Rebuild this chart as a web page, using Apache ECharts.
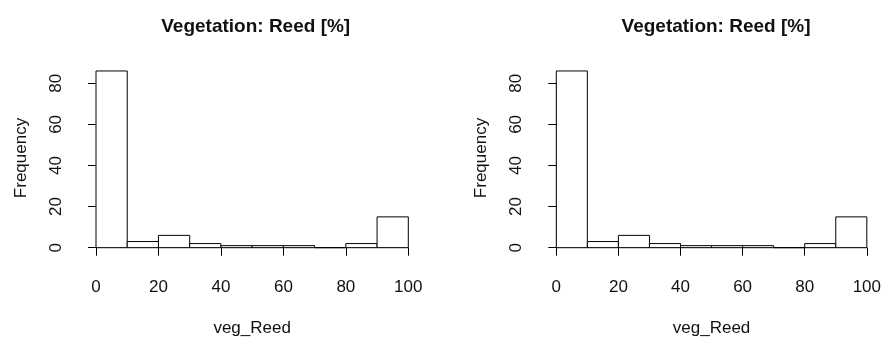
<!DOCTYPE html>
<html>
<head>
<meta charset="utf-8">
<script src="https://cdn.jsdelivr.net/npm/echarts@6/dist/echarts.min.js"></script>
<style>
  html, body { margin: 0; padding: 0; background: #fff; }
  #chart { width: 884px; height: 338px; }
</style>
</head>
<body>
<div id="chart"></div>
<script>
// Histogram of reed cover: bin edges and counts per bin
const binStarts = [0, 10, 20, 30, 40, 50, 60, 70, 80, 90];
const binWidth = 10;
const counts = [86, 3, 6, 2, 1, 1, 1, 0, 2, 15];
const xTicks = [0, 20, 40, 60, 80, 100];
const yTicks = [0, 20, 40, 60, 80];
const titleText = 'Vegetation: Reed [%]';
const xLabel = 'veg_Reed';
const yLabel = 'Frequency';

const binData = binStarts.map((s, i) => [s, s + binWidth, counts[i]]);

const FONT = 'Liberation Sans, Arial, sans-serif';
const INK = '#111';

// Each bin is a white rectangle with a black outline, from 0 up to its count
function renderBin(params, api) {
  const p0 = api.coord([api.value(0), 0]);
  const p1 = api.coord([api.value(1), api.value(2)]);
  return {
    type: 'rect',
    shape: { x: p0[0], y: p1[1], width: p1[0] - p0[0], height: p0[1] - p1[1] },
    style: { fill: '#fff', stroke: '#000', lineWidth: 1 }
  };
}

// Two identical panels side by side
const panels = [
  { left: 96, right: 475.7, titleX: 250.7 },
  { left: 556.3, right: 15.7, titleX: 711 }
];

const option = {
  animation: false,
  backgroundColor: '#fff',
  title: panels.map(p => ({
    text: titleText,
    left: p.titleX,
    top: 12,
    textAlign: 'center',
    textStyle: { fontFamily: FONT, fontSize: 19, fontWeight: 'bold', color: INK }
  })),
  grid: panels.map(p => ({ left: p.left, right: p.right, top: 83.3, bottom: 90.3 })),
  xAxis: panels.map((p, i) => ({
    type: 'value', gridIndex: i, min: 0, max: 100, interval: 20,
    offset: 8,
    name: xLabel, nameLocation: 'middle', nameGap: 64,
    nameTextStyle: { fontFamily: FONT, fontSize: 17, color: INK },
    axisLine: { show: true, lineStyle: { color: '#000', width: 1 } },
    axisTick: { show: true, length: 8, lineStyle: { color: '#000' } },
    axisLabel: {
      fontFamily: FONT, fontSize: 17, color: INK, margin: 23,
      formatter: v => (xTicks.includes(v) ? String(v) : '')
    },
    splitLine: { show: false }
  })),
  yAxis: panels.map((p, i) => ({
    type: 'value', gridIndex: i, min: 0, max: 80, interval: 20,
    offset: 13,
    name: yLabel, nameLocation: 'middle', nameGap: 53, nameRotate: 90,
    nameTextStyle: { fontFamily: FONT, fontSize: 17, color: INK, padding: [0, 0, 0, 15] },
    axisLine: { show: true, lineStyle: { color: '#000', width: 1 } },
    axisTick: { show: true, length: 8, lineStyle: { color: '#000' } },
    axisLabel: {
      fontFamily: FONT, fontSize: 17, color: INK, margin: 18, rotate: 90,
      formatter: v => (yTicks.includes(v) ? String(v) : '')
    },
    splitLine: { show: false }
  })),
  series: panels.map((p, i) => ({
    type: 'custom',
    xAxisIndex: i, yAxisIndex: i,
    clip: false,
    renderItem: renderBin,
    encode: { x: [0, 1], y: 2 },
    data: binData
  }))
};

const chart = echarts.init(document.getElementById('chart'), null, { renderer: 'canvas' });
chart.setOption(option);
</script>
</body>
</html>
